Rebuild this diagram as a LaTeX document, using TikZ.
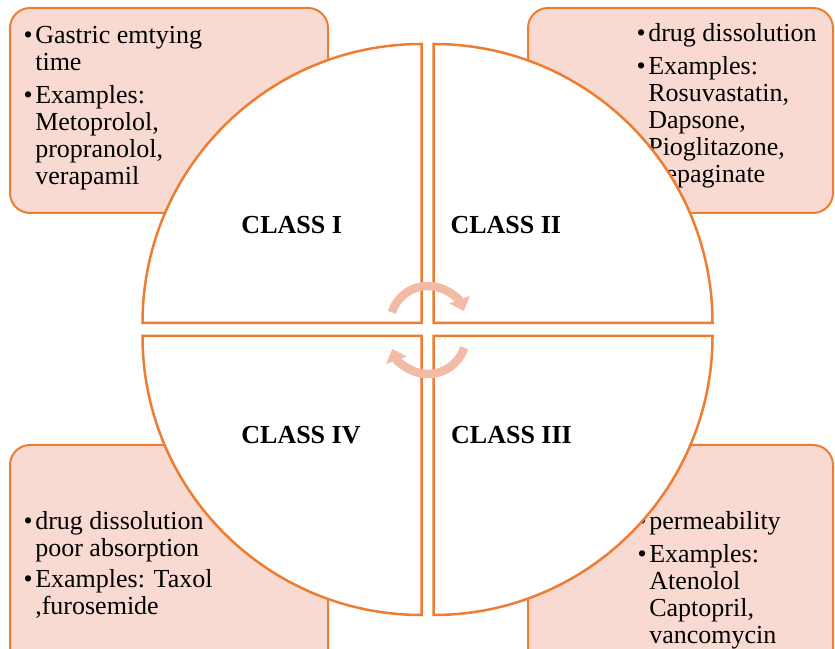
\documentclass[tikz,border=0pt]{standalone}
\usepackage{fontspec}
\setmainfont{Liberation Serif}
\usetikzlibrary{arrows.meta}

\definecolor{bcsorange}{RGB}{237,125,49}
\definecolor{bcsfill}{RGB}{248,218,210}
\definecolor{bcsarrow}{RGB}{243,186,166}
\newcommand{\bcsfont}{\fontsize{26}{27}\selectfont}

\begin{document}
\begin{tikzpicture}[x=1pt, y=1pt,
    panel/.style={draw=bcsorange, fill=bcsfill, line width=2pt, rounded corners=20pt},
    quarter/.style={draw=bcsorange, fill=white, line width=2.5pt, line join=miter},
    notes/.style={anchor=base west, inner sep=0pt, font=\bcsfont},
    classlabel/.style={anchor=base, inner sep=0pt, font=\bcsfont\bfseries},
    turnarrow/.style={draw=bcsarrow, line width=8.5pt, -{Triangle[width=21pt,length=12pt]}}]

    % Page
    \useasboundingbox (0,0) rectangle (835,648);
    \clip (0,0) rectangle (835,648);

    % Corner boxes
    \draw[panel] (10,435) rectangle (328,640);
    \draw[panel] (528,435) rectangle (833,640);
    \draw[panel] (10,-30) rectangle (328,203);
    \draw[panel] (528,-30) rectangle (833,203);

    % Box texts
    \node[notes] (noteI) at (23.5,604.7) {\begin{tabular}[t]{@{}l@{\hspace{2.5pt}}l@{}}
        \textbullet & Gastric emtying\\ & time\\[6pt]
        \textbullet & Examples:\\ & Metoprolol,\\ & propranolol,\\ & verapamil
      \end{tabular}};
    \node[notes] (noteII) at (636.5,606) {\begin{tabular}[t]{@{}l@{\hspace{2.5pt}}l@{}}
        \textbullet & drug dissolution\\[6pt]
        \textbullet & Examples:\\ & Rosuvastatin,\\ & Dapsone,\\ & Pioglitazone,\\ & Repaginate
      \end{tabular}};
    \node[notes] (noteIV) at (23.5,118) {\begin{tabular}[t]{@{}l@{\hspace{2.5pt}}l@{}}
        \textbullet & drug dissolution\\ & poor absorption\\[4pt]
        \textbullet & Examples: Taxol\\ & ,furosemide
      \end{tabular}};
    \node[notes] (noteIII) at (637.5,118) {\begin{tabular}[t]{@{}l@{\hspace{2.5pt}}l@{}}
        \textbullet & permeability\\[6pt]
        \textbullet & Examples:\\ & Atenolol\\ & Captopril,\\ & vancomycin
      \end{tabular}};

    % Quarters of the circle
    \draw[quarter] (421.5,325) -- ++(-279,0) arc[start angle=180, end angle=90, radius=279] -- cycle;
    \draw[quarter] (433.5,325) -- ++(0,279) arc[start angle=90, end angle=0, radius=279] -- cycle;
    \draw[quarter] (421.5,312) -- ++(0,-279) arc[start angle=270, end angle=180, radius=279] -- cycle;
    \draw[quarter] (433.5,312) -- ++(279,0) arc[start angle=0, end angle=-90, radius=279] -- cycle;

    % Class names
    \node[classlabel] (classI) at (291.7,414.7) {CLASS I};
    \node[classlabel] (classII) at (505.8,414.7) {CLASS II};
    \node[classlabel] (classIV) at (301,204) {CLASS IV};
    \node[classlabel] (classIII) at (511.5,204) {CLASS III};

    % Turning arrows in the middle
    \coordinate (spinT) at (428,324);
    \coordinate (spinB) at (428,312);
    \draw[turnarrow] (spinT) ++(162:38) arc[start angle=162, end angle=20, radius=38];
    \draw[turnarrow] (spinB) ++(-18:38) arc[start angle=-18, end angle=-160, radius=38];
\end{tikzpicture}
\end{document}
